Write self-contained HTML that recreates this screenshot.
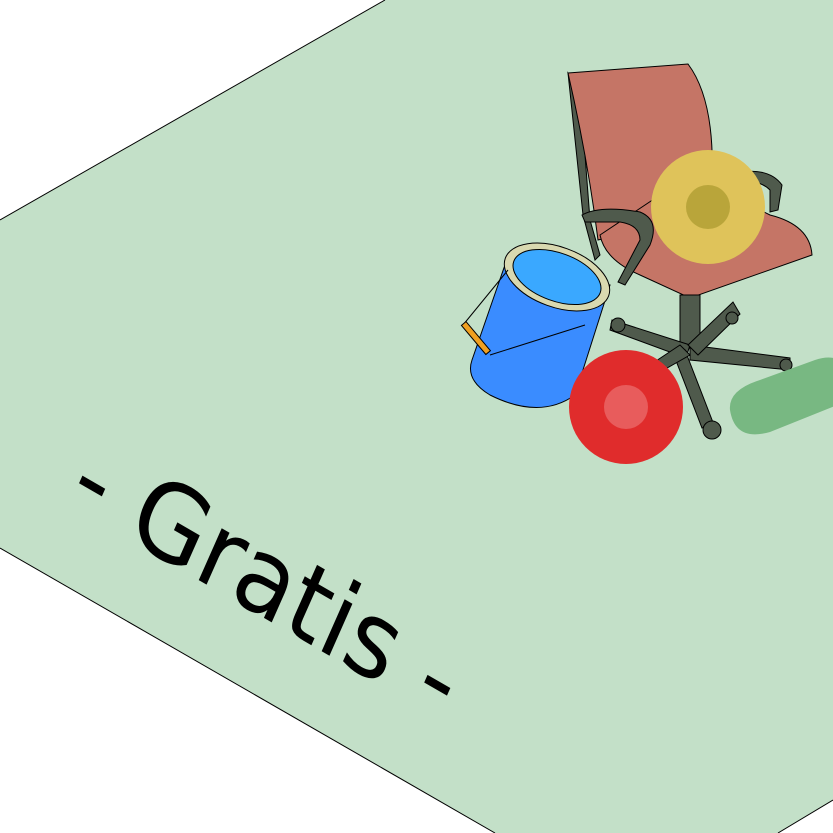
<!DOCTYPE html>
<html><head><meta charset="utf-8"><style>
html,body{margin:0;padding:0;background:#fff;width:833px;height:833px;overflow:hidden}
</style></head><body>
<svg width="833" height="833" viewBox="0 0 833 833" xmlns="http://www.w3.org/2000/svg">
<polygon points="385,0 833,0 833,800 778,833 495,833 0,548 0,220" fill="#c3e0c8"/>
<polyline points="385,0 0,220" fill="none" stroke="#000" stroke-width="1"/>
<polyline points="0,548 495,833" fill="none" stroke="#000" stroke-width="1"/>
<polyline points="778,833 833,800" fill="none" stroke="#000" stroke-width="1"/>
<text transform="matrix(0.866,0.5,-0.42,0.95,65,503)" font-family="DejaVu Sans, sans-serif" font-size="100" fill="#000">- Gratis -</text>
<g stroke="#000" stroke-width="1">
<path d="M568,73 L580,90 L590,220 L600,255 L595,260 L583,215 Z" fill="#4f5a4c"/>
<path d="M568,73 L688,64 Q715,100 712,180 L640,230 L598,240 Q588,160 568,73 Z" fill="#c57566"/>
<path d="M600,235 L690,175 L770,215 Q810,225 812,255 L690,298 L640,275 Q605,260 600,235 Z" fill="#c57566"/>
<path d="M680,295 L700,295 L700,345 L680,345 Z" fill="#4f5a4c"/>
<path d="M612,320 L690,345 L686,358 L610,330 Z" fill="#4f5a4c"/>
<path d="M690,345 L790,358 L790,370 L690,360 Z" fill="#4f5a4c"/>
<path d="M685,350 L714,425 L702,428 L675,358 Z" fill="#4f5a4c"/>
<path d="M688,345 L733,302 L740,314 L698,355 Z" fill="#4f5a4c"/>
<path d="M680,345 L650,365 L660,372 L690,355 Z" fill="#4f5a4c"/>
<circle cx="712" cy="430" r="9" fill="#4f5a4c"/>
<circle cx="618" cy="325" r="7" fill="#4f5a4c"/>
<circle cx="732" cy="318" r="6" fill="#4f5a4c"/>
<circle cx="786" cy="365" r="6" fill="#4f5a4c"/>
<path d="M582,215 Q600,205 640,212 Q660,220 650,245 L625,285 L618,282 L640,240 Q640,225 620,222 Q598,222 585,222 Z" fill="#4f5a4c"/>
<path d="M740,172 Q770,168 782,185 L778,210 L770,212 L770,190 Q760,180 742,182 Z" fill="#4f5a4c"/>
</g>
<circle cx="708" cy="207" r="57" fill="#dfc35a"/>
<circle cx="708" cy="207" r="22" fill="#b9a53a"/>
<g stroke="#000" stroke-width="1">
<path d="M506,262 L610,285 L575,395 Q540,420 490,395 Q465,380 472,360 Z" fill="#3a8cff"/>
<ellipse cx="557" cy="277" rx="55" ry="30" transform="rotate(20 557 277)" fill="#d9d9b0"/>
<ellipse cx="557" cy="277" rx="46" ry="24" transform="rotate(20 557 277)" fill="#3aa8ff"/>
<path d="M463,325 L508,270 M490,355 L585,325" fill="none"/>
<rect x="462" y="323" width="6" height="38" transform="rotate(-40 465 325)" fill="#f0a020"/>
</g>
<circle cx="626" cy="407" r="57" fill="#e02c2c"/>
<circle cx="626" cy="407" r="22" fill="#e85c5c"/>
<path d="M760,380 L815,360 Q845,350 850,380 L850,400 L770,432 Q735,442 730,410 Q728,390 760,380 Z" fill="#78b882"/>
</svg>
</body></html>
